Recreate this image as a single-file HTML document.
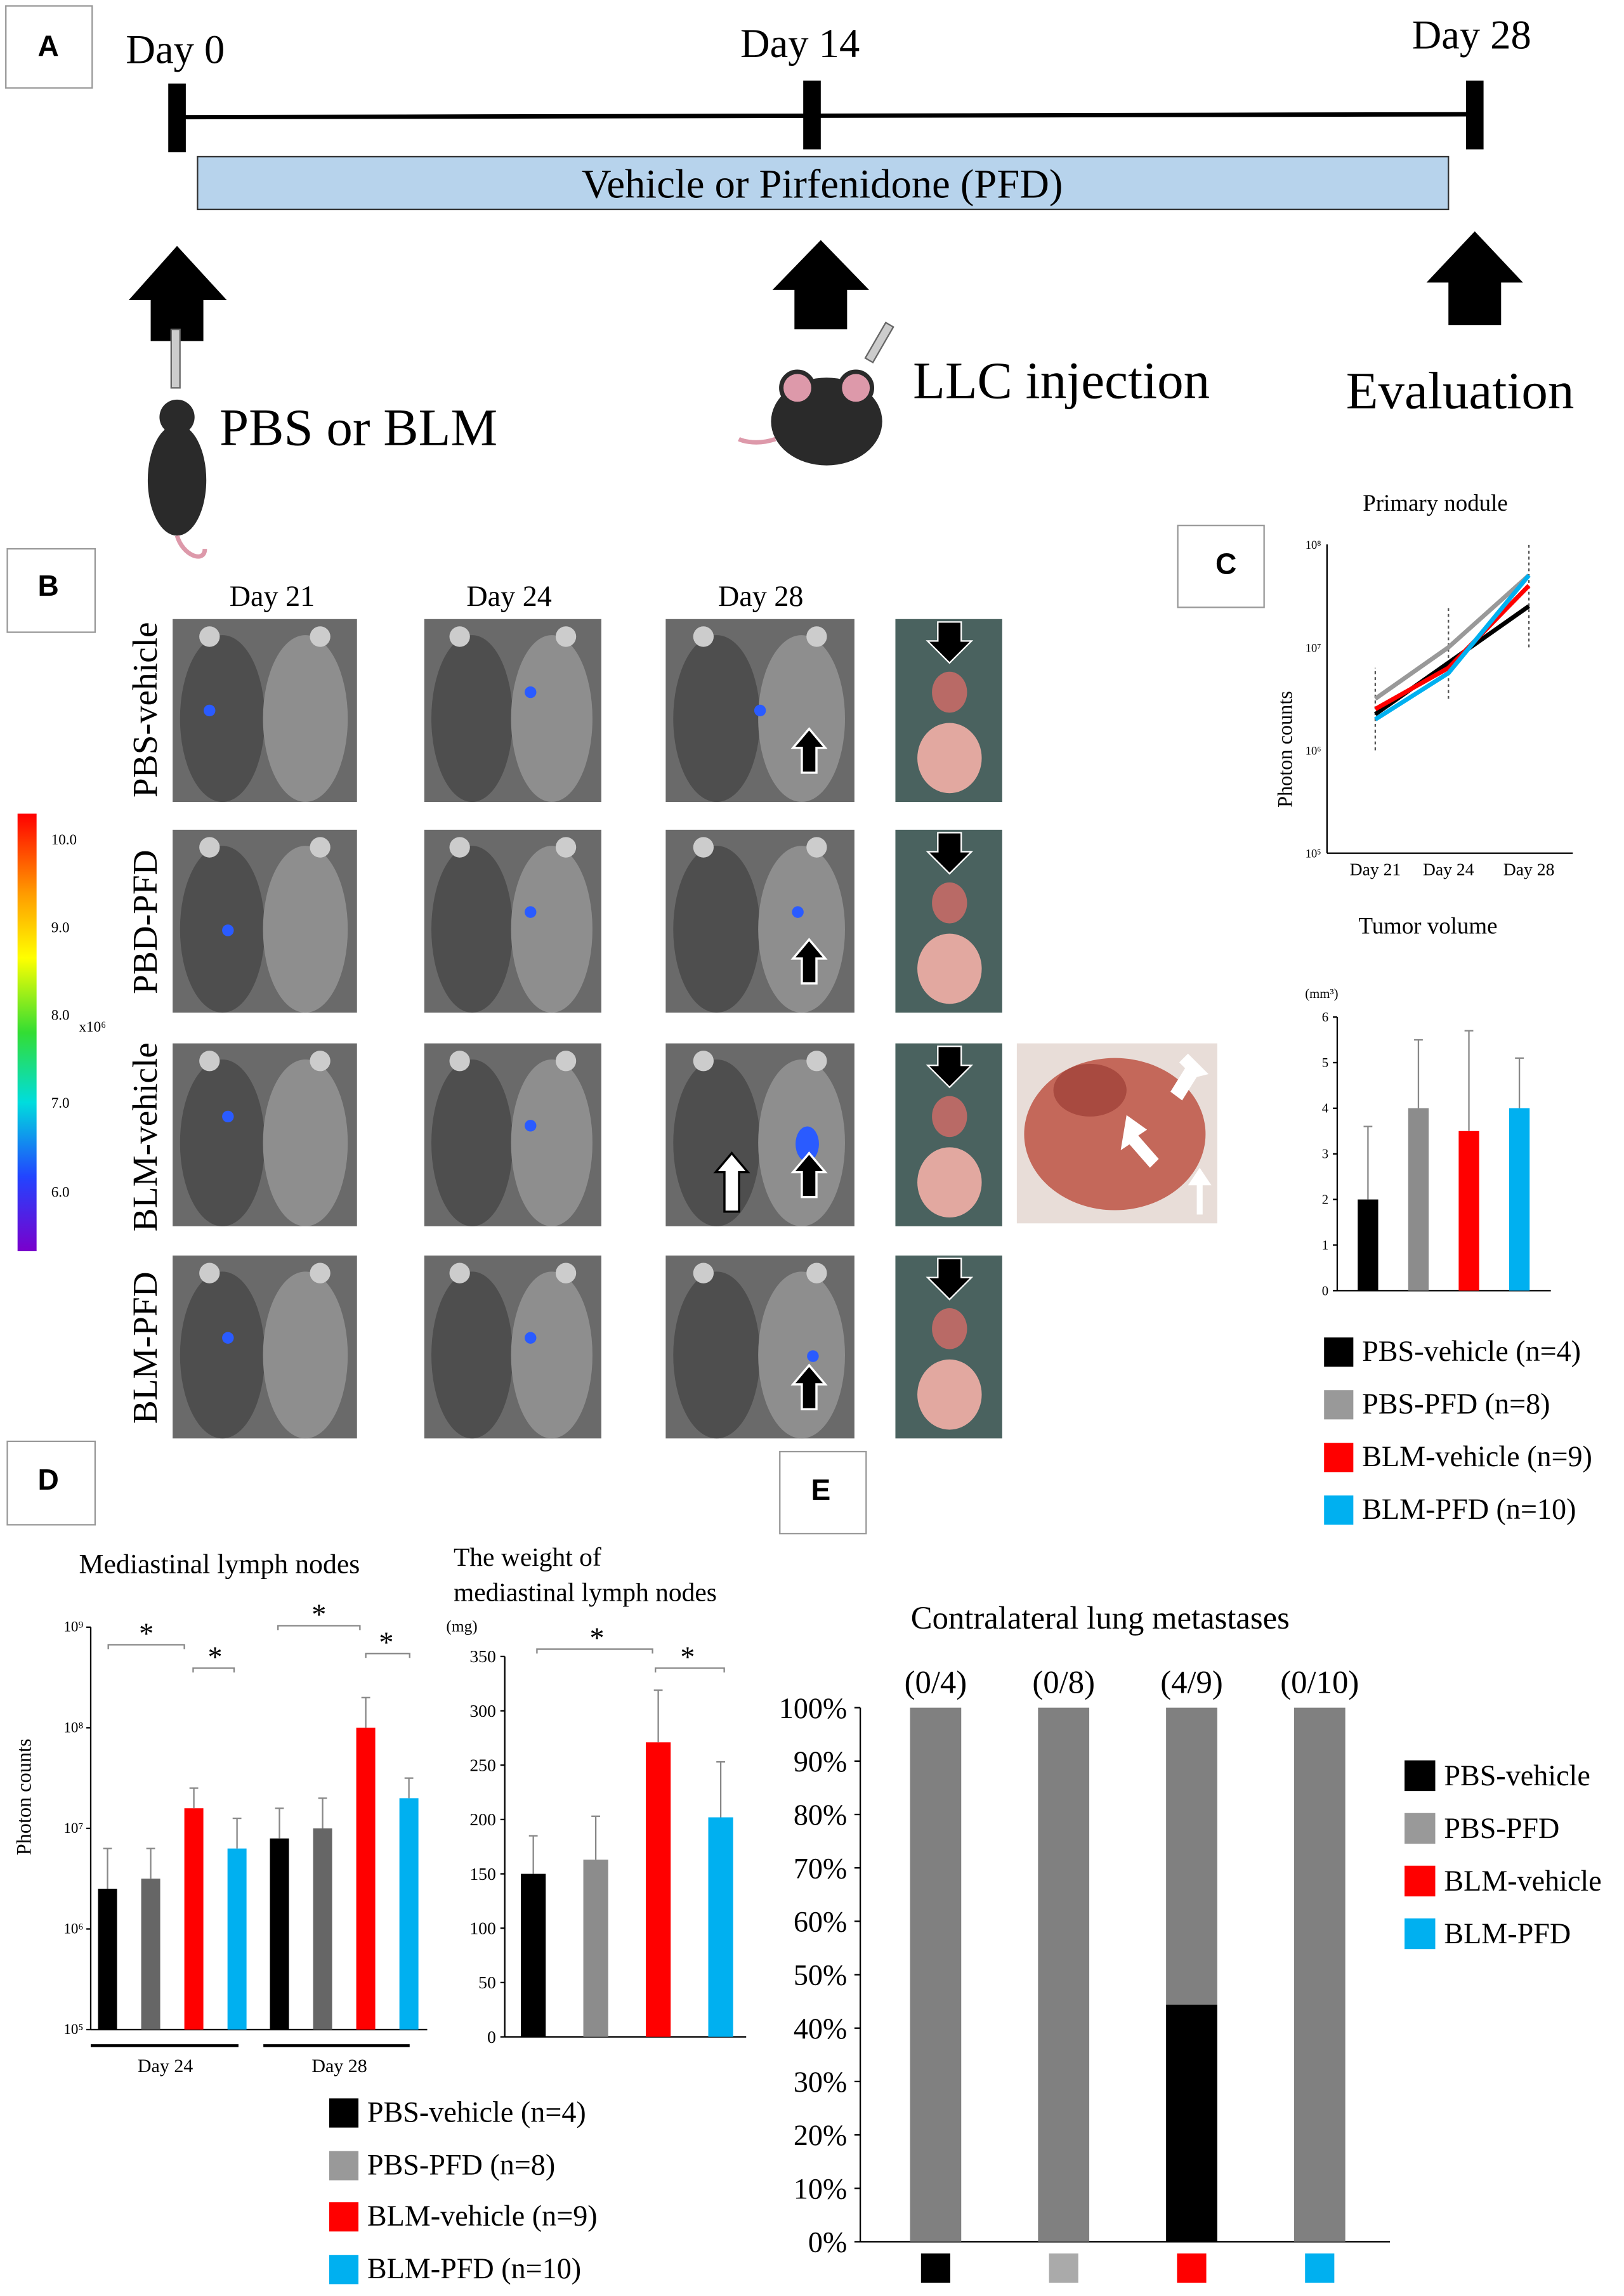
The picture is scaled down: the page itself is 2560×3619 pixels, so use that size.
<!DOCTYPE html>
<html><head><meta charset="utf-8"><style>
html,body{margin:0;padding:0;background:#fff;}
svg{display:block;}
text{font-family:"Liberation Serif",serif;fill:#000;}
.sans{font-family:"Liberation Sans",sans-serif;font-weight:bold;}
</style></head><body>
<svg id="fig" width="2560" height="3619" viewBox="0 0 1110 1569" xmlns="http://www.w3.org/2000/svg">
<defs>
<linearGradient id="cbar" x1="0" y1="0" x2="0" y2="1">
<stop offset="0" stop-color="#ff0000"/><stop offset="0.18" stop-color="#ff9900"/><stop offset="0.33" stop-color="#ffff00"/><stop offset="0.5" stop-color="#33dd33"/><stop offset="0.66" stop-color="#00dddd"/><stop offset="0.83" stop-color="#2244ff"/><stop offset="1" stop-color="#7a00cc"/>
</linearGradient>
</defs>
<!-- Panel A -->
<g>
<rect x="4" y="4" width="59" height="56" fill="#fff" stroke="#999"/>
<text x="33" y="38" class="sans" font-size="20" text-anchor="middle">A</text>
<text x="86" y="43" font-size="28">Day 0</text>
<text x="506" y="39" font-size="28">Day 14</text>
<text x="965" y="33" font-size="28">Day 28</text>
<line x1="121" y1="80" x2="1008" y2="78" stroke="#000" stroke-width="3"/>
<rect x="115" y="57" width="12" height="47" fill="#000"/>
<rect x="549" y="55" width="12" height="47" fill="#000"/>
<rect x="1002" y="55" width="12" height="47" fill="#000"/>
<rect x="135" y="107" width="855" height="36" fill="#b7d3ec" stroke="#333"/>
<text x="562" y="135" font-size="28" text-anchor="middle">Vehicle or Pirfenidone (PFD)</text>
<polygon points="121,168 155,205 139,205 139,233 103,233 103,205 88,205" fill="#000"/>
<polygon points="561,164 594,198 579,198 579,225 543,225 543,198 528,198" fill="#000"/>
<polygon points="1008,158 1041,193 1026,193 1026,222 990,222 990,193 975,193" fill="#000"/>
<text x="150" y="304" font-size="36">PBS or BLM</text>
<text x="624" y="272" font-size="36">LLC injection</text>
<text x="920" y="279" font-size="36">Evaluation</text>
<g>
<rect x="117" y="225" width="6" height="40" fill="#ccc" stroke="#666"/>
<ellipse cx="121" cy="328" rx="20" ry="38" fill="#2a2a2a"/>
<circle cx="121" cy="285" r="12" fill="#2a2a2a"/>
<path d="M121,366 C125,380 140,385 140,375" stroke="#d9a" stroke-width="3" fill="none"/>
</g>
<g>
<ellipse cx="565" cy="288" rx="38" ry="30" fill="#2a2a2a"/>
<circle cx="545" cy="265" r="11" fill="#d9a" stroke="#2a2a2a" stroke-width="3"/>
<circle cx="585" cy="265" r="11" fill="#d9a" stroke="#2a2a2a" stroke-width="3"/>
<path d="M530,300 C515,305 505,300 505,300" stroke="#d9a" stroke-width="3" fill="none"/>
<rect x="598" y="220" width="6" height="28" fill="#ccc" stroke="#666" transform="rotate(30 601 234)"/>
</g>
</g>
<!-- Panel B -->
<g>
<rect x="5" y="375" width="60" height="57" fill="#fff" stroke="#999"/>
<text x="33" y="407" class="sans" font-size="20" text-anchor="middle">B</text>
<text x="186" y="414" font-size="20" text-anchor="middle">Day 21</text>
<text x="348" y="414" font-size="20" text-anchor="middle">Day 24</text>
<text x="520" y="414" font-size="20" text-anchor="middle">Day 28</text>
<text transform="translate(107,485) rotate(-90)" font-size="24" text-anchor="middle">PBS-vehicle</text>
<text transform="translate(107,630) rotate(-90)" font-size="24" text-anchor="middle">PBD-PFD</text>
<text transform="translate(107,777) rotate(-90)" font-size="24" text-anchor="middle">BLM-vehicle</text>
<text transform="translate(107,921) rotate(-90)" font-size="24" text-anchor="middle">BLM-PFD</text>
<rect x="12" y="556" width="13" height="299" fill="url(#cbar)"/>
<g font-size="10" font-family="Liberation Sans,sans-serif">
<text x="35" y="577">10.0</text><text x="35" y="637">9.0</text><text x="35" y="697">8.0</text><text x="54" y="705">x10⁶</text><text x="35" y="757">7.0</text><text x="35" y="818">6.0</text>
</g>
<rect x="695" y="713" width="137" height="123" fill="#e8ddd8"/>
<ellipse cx="762" cy="775" rx="62" ry="52" fill="#c4685a"/>
<ellipse cx="745" cy="745" rx="25" ry="18" fill="#a84a40"/>
<polygon points="812,720 826,734 818,736 808,752 800,746 810,730 806,726" fill="#fff"/>
<polygon points="770,762 784,772 778,776 792,792 786,798 772,782 766,786" fill="#fff"/>
<polygon points="818,830 818,810 812,810 820,798 828,810 822,810 822,830" fill="#fff"/>
</g>
<!-- Panel C -->
<g>
<rect x="805" y="359" width="59" height="56" fill="#fff" stroke="#999"/>
<text x="838" y="392" class="sans" font-size="20" text-anchor="middle">C</text>
<text x="981" y="349" font-size="16" text-anchor="middle">Primary nodule</text>
<text transform="translate(883,512) rotate(-90)" font-size="14" text-anchor="middle">Photon counts</text>
<g id="cLine"></g>
<text x="976" y="638" font-size="16" text-anchor="middle">Tumor volume</text>
<text x="892" y="682" font-size="9">(mm³)</text>
<g id="cBar"></g>
<g font-size="20">
<rect x="905" y="914" width="20" height="20" fill="#000"/><text x="931" y="930">PBS-vehicle (n=4)</text>
<rect x="905" y="950" width="20" height="20" fill="#999"/><text x="931" y="966">PBS-PFD (n=8)</text>
<rect x="905" y="986" width="20" height="20" fill="#f00"/><text x="931" y="1002">BLM-vehicle (n=9)</text>
<rect x="905" y="1022" width="20" height="20" fill="#00b0f0"/><text x="931" y="1038">BLM-PFD (n=10)</text>
</g>
</g>
<!-- Panel D -->
<g>
<rect x="5" y="985" width="60" height="57" fill="#fff" stroke="#999"/>
<text x="33" y="1018" class="sans" font-size="20" text-anchor="middle">D</text>
<text x="150" y="1075" font-size="19" text-anchor="middle">Mediastinal lymph nodes</text>
<text x="310" y="1070" font-size="18">The weight of</text>
<text x="310" y="1094" font-size="18">mediastinal lymph nodes</text>
<text transform="translate(21,1228) rotate(-90)" font-size="14" text-anchor="middle">Photon counts</text>
<g id="dLog"></g>
<g id="dWeight"></g>
<g font-size="20">
<rect x="225" y="1434" width="20" height="20" fill="#000"/><text x="251" y="1450">PBS-vehicle (n=4)</text>
<rect x="225" y="1470" width="20" height="20" fill="#999"/><text x="251" y="1486">PBS-PFD (n=8)</text>
<rect x="225" y="1505" width="20" height="20" fill="#f00"/><text x="251" y="1521">BLM-vehicle (n=9)</text>
<rect x="225" y="1541" width="20" height="20" fill="#00b0f0"/><text x="251" y="1557">BLM-PFD (n=10)</text>
</g>
</g>
<!-- Panel E -->
<g>
<rect x="533" y="992" width="59" height="56" fill="#fff" stroke="#999"/>
<text x="561" y="1025" class="sans" font-size="20" text-anchor="middle">E</text>
<text x="752" y="1113" font-size="22" text-anchor="middle">Contralateral  lung metastases</text>
<g id="eBar"></g>
<g font-size="20">
<rect x="960" y="1203" width="21" height="21" fill="#000"/><text x="987" y="1220">PBS-vehicle</text>
<rect x="960" y="1239" width="21" height="21" fill="#999"/><text x="987" y="1256">PBS-PFD</text>
<rect x="960" y="1275" width="21" height="21" fill="#f00"/><text x="987" y="1292">BLM-vehicle</text>
<rect x="960" y="1311" width="21" height="21" fill="#00b0f0"/><text x="987" y="1328">BLM-PFD</text>
</g>
</g>
</svg>
<script>
// ===== data =====
const groupColors = ["#000000", "#8c8c8c", "#ff0000", "#00b0f0"];
// C line (log10 photon counts)
const cDays = ["Day 21", "Day 24", "Day 28"];
const cBlack = [6.35, 6.85, 7.4];
const cGray = [6.5, 7.0, 7.7];
const cRed = [6.4, 6.8, 7.6];
const cBlue = [6.3, 6.75, 7.7];
const cErrLow = [6.0, 6.5, 7.0];
const cErrHigh = [6.8, 7.4, 8.0];
// C bar tumor volume
const tumorVol = [2, 4, 3.5, 4];
const tumorErr = [3.6, 5.5, 5.7, 5.1];
const tumorTicks = [0, 1, 2, 3, 4, 5, 6];
// D log photon counts
const dDay24 = [6.4, 6.5, 7.2, 6.8];
const dDay28 = [6.9, 7.0, 8.0, 7.3];
const dErr24 = [6.8, 6.8, 7.4, 7.1];
const dErr28 = [7.2, 7.3, 8.3, 7.5];
const dLogTicks = [5, 6, 7, 8, 9];
// D weight (mg)
const weights = [150, 163, 271, 202];
const weightErr = [185, 203, 319, 253];
const weightTicks = [0, 50, 100, 150, 200, 250, 300, 350];
// E metastases fraction (%)
const metLabels = ["(0/4)", "(0/8)", "(4/9)", "(0/10)"];
const metPct = [0, 0, 44.4, 0];
const pctTicks = [0,10,20,30,40,50,60,70,80,90,100];

const NS = "http://www.w3.org/2000/svg";
function mk(parent, tag, attrs, txt){const e=document.createElementNS(NS,tag);for(const k in attrs)e.setAttribute(k,attrs[k]);if(txt!==undefined)e.textContent=txt;parent.appendChild(e);return e;}

// ===== B mouse photos =====
(function(){
 const fig=document.getElementById('fig');
 const rows=[423,567,713,858];
 const cols=[[118,126],[290,121],[455,129]];
 const blobs=[[[0.2,0.5],[0.6,0.4],[0.5,0.5]],[[0.3,0.55],[0.6,0.45],[0.7,0.45]],[[0.3,0.4],[0.6,0.45],[0.75,0.55]],[[0.3,0.45],[0.6,0.45],[0.78,0.55]]];
 rows.forEach((y,ri)=>{
  cols.forEach((c,ci)=>{
   const g=mk(fig,'g',{});
   
   
   mk(g,'rect',{x:c[0],y:y,width:c[1],height:125,fill:'#6a6a6a'});
   mk(g,'ellipse',{cx:c[0]+c[1]*0.27,cy:y+68,rx:c[1]*0.23,ry:57,fill:'#4e4e4e'});
   mk(g,'ellipse',{cx:c[0]+c[1]*0.72,cy:y+68,rx:c[1]*0.23,ry:57,fill:'#8e8e8e'});
   mk(g,'circle',{cx:c[0]+c[1]*0.2,cy:y+12,r:7,fill:'#ccc'});
   mk(g,'circle',{cx:c[0]+c[1]*0.8,cy:y+12,r:7,fill:'#ccc'});
   const b=blobs[ri][ci];
   mk(g,'ellipse',{cx:c[0]+c[1]*b[0],cy:y+125*b[1],rx:ri==2&&ci==2?8:4,ry:ri==2&&ci==2?12:4,fill:'#2a5bff'});
   if(ci==2){
    const ax=c[0]+c[1]*0.76, ay=y+75;
    mk(g,'polygon',{points:`${ax},${ay} ${ax+11},${ay+13} ${ax+5},${ay+13} ${ax+5},${ay+30} ${ax-5},${ay+30} ${ax-5},${ay+13} ${ax-11},${ay+13}`,fill:'#000',stroke:'#fff','stroke-width':1.5});
    if(ri==2){const bx=c[0]+c[1]*0.35;
     mk(g,'polygon',{points:`${bx},${ay} ${bx+11},${ay+13} ${bx+5},${ay+13} ${bx+5},${ay+40} ${bx-5},${ay+40} ${bx-5},${ay+13} ${bx-11},${ay+13}`,fill:'#fff',stroke:'#000','stroke-width':1.5});}
   }
  });
  const g=mk(fig,'g',{});
  
  
  mk(g,'rect',{x:612,y:y,width:73,height:125,fill:'#4a625f'});
  mk(g,'ellipse',{cx:649,cy:y+50,rx:12,ry:14,fill:'#b96a66'});
  mk(g,'ellipse',{cx:649,cy:y+95,rx:22,ry:24,fill:'#e2a8a0'});
  mk(g,'polygon',{points:`641,${y+2} 657,${y+2} 657,${y+15} 664,${y+15} 649,${y+30} 634,${y+15} 641,${y+15}`,fill:'#000',stroke:'#fff'});
 });
})();

// ===== C line chart =====
(function(){
 const g=document.getElementById('cLine');
 const x0=907,y0=583,yTop=372,xs=[940,990,1045];
 const y=v=>y0-(v-5)/3*(y0-yTop);
 mk(g,'line',{x1:x0,y1:yTop,x2:x0,y2:y0,stroke:'#000'});
 mk(g,'line',{x1:x0,y1:y0,x2:1075,y2:y0,stroke:'#000'});
 [5,6,7,8].forEach(t=>{const e=mk(g,'text',{x:x0-4,y:y(t)+3,'font-size':8,'text-anchor':'end'},'10'+['⁵','⁶','⁷','⁸'][t-5]);});
 cDays.forEach((d,i)=>{const e=mk(g,'text',{x:xs[i],y:y0+15,'font-size':12,'text-anchor':'middle'},d);});
 xs.forEach((xx,i)=>{const e=mk(g,'line',{x1:xx,y1:y(cErrLow[i]),x2:xx,y2:y(cErrHigh[i]),stroke:'#555','stroke-dasharray':'2,2'});});
 [[cGray,'#999'],[cBlack,'#000'],[cRed,'#f00'],[cBlue,'#00b0f0']].forEach(([s,c],k)=>{
  const p=mk(g,'polyline',{points:s.map((v,i)=>xs[i]+','+y(v)).join(' '),fill:'none',stroke:c,'stroke-width':3});
  
 });
})();
// ===== C bar chart =====
(function(){
 const g=document.getElementById('cBar');
 const x0=914,y0=882,yTop=695;
 const y=v=>y0-v/6*(y0-yTop);
 mk(g,'line',{x1:x0,y1:yTop,x2:x0,y2:y0,stroke:'#000'});
 mk(g,'line',{x1:x0,y1:y0,x2:1060,y2:y0,stroke:'#000'});
 tumorTicks.forEach(t=>{mk(g,'line',{x1:x0-3,y1:y(t),x2:x0,y2:y(t),stroke:'#000'});const e=mk(g,'text',{x:x0-6,y:y(t)+3,'font-size':9,'text-anchor':'end'},t);});
 tumorVol.forEach((v,i)=>{
  const cx=935+i*34.5;
  const r=mk(g,'rect',{x:cx-7,y:y(v),width:14,height:y0-y(v),fill:groupColors[i]});
  
  mk(g,'line',{x1:cx,y1:y(tumorErr[i]),x2:cx,y2:y(v),stroke:'#888'});
  mk(g,'line',{x1:cx-3,y1:y(tumorErr[i]),x2:cx+3,y2:y(tumorErr[i]),stroke:'#888'});
 });
})();
// ===== D log chart =====
(function(){
 const g=document.getElementById('dLog');
 const x0=62,y0=1387,yTop=1112;
 const y=v=>y0-(v-5)/4*(y0-yTop);
 mk(g,'line',{x1:x0,y1:yTop,x2:x0,y2:y0,stroke:'#000'});
 mk(g,'line',{x1:x0,y1:y0,x2:292,y2:y0,stroke:'#000'});
 dLogTicks.forEach(t=>{mk(g,'line',{x1:x0-3,y1:y(t),x2:x0,y2:y(t),stroke:'#000'});const e=mk(g,'text',{x:x0-5,y:y(t)+3,'font-size':10,'text-anchor':'end'},'10'+['⁵','⁶','⁷','⁸','⁹'][t-5]);});
 const drawSet=(vals,errs,start,tag)=>vals.forEach((v,i)=>{
  const cx=start+i*29.5;
  const r=mk(g,'rect',{x:cx-6.5,y:y(v),width:13,height:y0-y(v),fill:i==1?'#666':groupColors[i]});
  
  mk(g,'line',{x1:cx,y1:y(errs[i]),x2:cx,y2:y(v),stroke:'#888'});
  mk(g,'line',{x1:cx-3,y1:y(errs[i]),x2:cx+3,y2:y(errs[i]),stroke:'#888'});
 });
 drawSet(dDay24,dErr24,73.5,'day24');drawSet(dDay28,dErr28,191,'day28');
 mk(g,'line',{x1:62,y1:1398,x2:163,y2:1398,stroke:'#000','stroke-width':2});
 mk(g,'line',{x1:180,y1:1398,x2:280,y2:1398,stroke:'#000','stroke-width':2});
 mk(g,'text',{x:113,y:1416,'font-size':13,'text-anchor':'middle'},'Day 24');
 mk(g,'text',{x:232,y:1416,'font-size':13,'text-anchor':'middle'},'Day 28');
 [[74,126,1124,100],[132,160,1140,147],[190,246,1111,218],[250,280,1130,264]].forEach(b=>{
  mk(g,'path',{d:`M${b[0]},${b[2]+3} L${b[0]},${b[2]} L${b[1]},${b[2]} L${b[1]},${b[2]+3}`,fill:'none',stroke:'#888'});
  mk(g,'text',{x:b[3],y:b[2]-1,'font-size':20,'text-anchor':'middle'},'*');
 });
})();
// ===== D weight chart =====
(function(){
 const g=document.getElementById('dWeight');
 const x0=345,y0=1392,yTop=1132;
 const y=v=>y0-v/350*(y0-yTop);
 mk(g,'text',{x:305,y:1115,'font-size':11},'(mg)');
 mk(g,'line',{x1:x0,y1:yTop,x2:x0,y2:y0,stroke:'#000'});
 mk(g,'line',{x1:x0,y1:y0,x2:510,y2:y0,stroke:'#000'});
 weightTicks.forEach(t=>{mk(g,'line',{x1:x0-3,y1:y(t),x2:x0,y2:y(t),stroke:'#000'});const e=mk(g,'text',{x:x0-6,y:y(t)+4,'font-size':12,'text-anchor':'end'},t);});
 weights.forEach((v,i)=>{
  const cx=364.5+i*42.7;
  const r=mk(g,'rect',{x:cx-8.5,y:y(v),width:17,height:y0-y(v),fill:groupColors[i]});
  
  mk(g,'line',{x1:cx,y1:y(weightErr[i]),x2:cx,y2:y(v),stroke:'#888'});
  mk(g,'line',{x1:cx-3,y1:y(weightErr[i]),x2:cx+3,y2:y(weightErr[i]),stroke:'#888'});
 });
 [[367,446,1127,408],[448,495,1140,470]].forEach(b=>{
  mk(g,'path',{d:`M${b[0]},${b[2]+3} L${b[0]},${b[2]} L${b[1]},${b[2]} L${b[1]},${b[2]+3}`,fill:'none',stroke:'#888'});
  mk(g,'text',{x:b[3],y:b[2]-1,'font-size':20,'text-anchor':'middle'},'*');
 });
})();
// ===== E stacked chart =====
(function(){
 const g=document.getElementById('eBar');
 const x0=588,y0=1532,yTop=1167;
 const y=v=>y0-v/100*(y0-yTop);
 mk(g,'line',{x1:x0,y1:yTop,x2:x0,y2:y0,stroke:'#000'});
 mk(g,'line',{x1:x0,y1:y0,x2:950,y2:y0,stroke:'#000'});
 pctTicks.forEach(t=>{mk(g,'line',{x1:x0-4,y1:y(t),x2:x0,y2:y(t),stroke:'#000'});const e=mk(g,'text',{x:x0-9,y:y(t)+7,'font-size':20,'text-anchor':'end'},t+'%');});
 metPct.forEach((v,i)=>{
  const cx=639.5+i*87.5;
  const r1=mk(g,'rect',{x:cx-17.5,y:yTop,width:35,height:y(v)-yTop,fill:'#808080'});
  
  const r2=mk(g,'rect',{x:cx-17.5,y:y(v),width:35,height:y0-y(v),fill:'#000'});
  
  const t=mk(g,'text',{x:cx,y:1157,'font-size':22,'text-anchor':'middle'},metLabels[i]);
  
  mk(g,'rect',{x:cx-10,y:1540,width:20,height:20,fill:['#000','#aaa','#f00','#00b0f0'][i]});
 });
})();
</script>
</body></html>
